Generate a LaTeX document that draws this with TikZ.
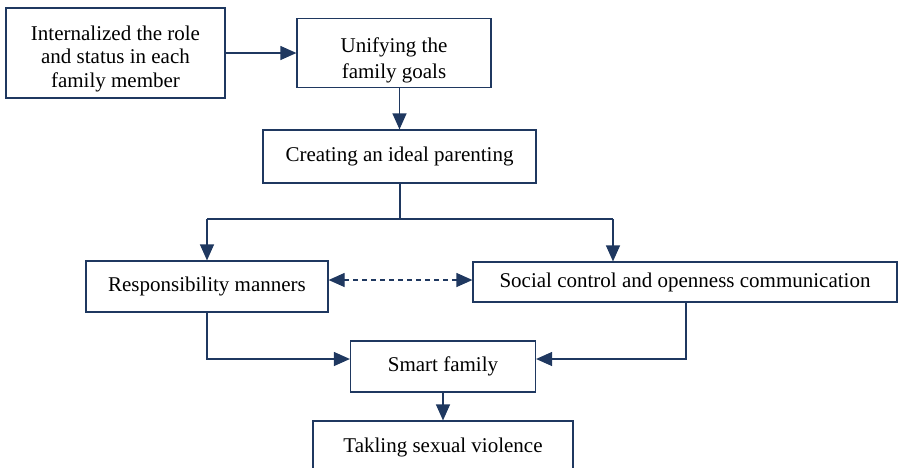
\documentclass[tikz,border=0pt]{standalone}
\usepackage{fontspec}
\setmainfont{Liberation Serif}
\usetikzlibrary{arrows.meta, positioning}
\definecolor{navy}{RGB}{31,56,96}
\tikzset{
  box/.style={draw=navy, line width=1.2pt, inner sep=0pt, align=center,
    font=\fontsize{21}{23.5}\selectfont},
  tip/.tip={Triangle[length=16pt,width=14pt]},
  link/.style={navy, line width=1.2pt, -tip},
  dlink/.style={navy, line width=1.2pt, dash pattern=on 5pt off 4pt, tip-tip},
}

\begin{document}
\begin{tikzpicture}[x=1pt, y=-1pt]
  \useasboundingbox (0,0) rectangle (898,467);
  \node[box, minimum width=219pt, minimum height=90pt] (role) at (115.5,53)
    {\rule{0pt}{26pt}Internalized the role\\and status in each\\family member};
  \node[box, minimum width=194pt, minimum height=69pt] (goals) at (394,53)
    {\rule{0pt}{30pt}Unifying the\\[3pt]family goals};
  \node[box, minimum width=273pt, minimum height=53pt] (ideal) at (399.5,156.5)
    {Creating an ideal parenting};
  \node[box, minimum width=242pt, minimum height=51pt] (resp) at (207,286.5)
    {Responsibility manners};
  \node[box, minimum width=424pt, minimum height=40pt] (social) at (685,282)
    {Social control and openness communication};
  \node[box, minimum width=185pt, minimum height=51pt] (smart) at (443,366.5)
    {Smart family};
  \node[box, minimum width=260pt, minimum height=52pt] (tackle) at (443,447)
    {Takling sexual violence};

  % junction points
  \coordinate (split) at (400,219);
  \coordinate (splitL) at (207,219);
  \coordinate (splitR) at (613,219);
  \coordinate (mergeL) at (207,359);
  \coordinate (mergeR) at (686,359);

  \draw[link] (role.east) -- (role.east -| goals.west);
  \draw[link] (ideal.north |- goals.south) -- (ideal.north);
  \draw[navy, line width=1.2pt] (ideal.south -| split) -- (split);
  \draw[navy, line width=1.2pt] (splitL) -- (splitR);
  \draw[link] (splitL) -- (resp.north);
  \draw[link] (splitR) -- (splitR |- social.north);
  \draw[dlink] (resp.east |- 0,280) -- (social.west |- 0,280);
  \draw[link] (resp.south) -- (mergeL) -- (mergeL -| smart.west);
  \draw[link] (social.south -| mergeR) -- (mergeR) -- (mergeR -| smart.east);
  \draw[link] (smart.south) -- (tackle.north);
\end{tikzpicture}
\end{document}
